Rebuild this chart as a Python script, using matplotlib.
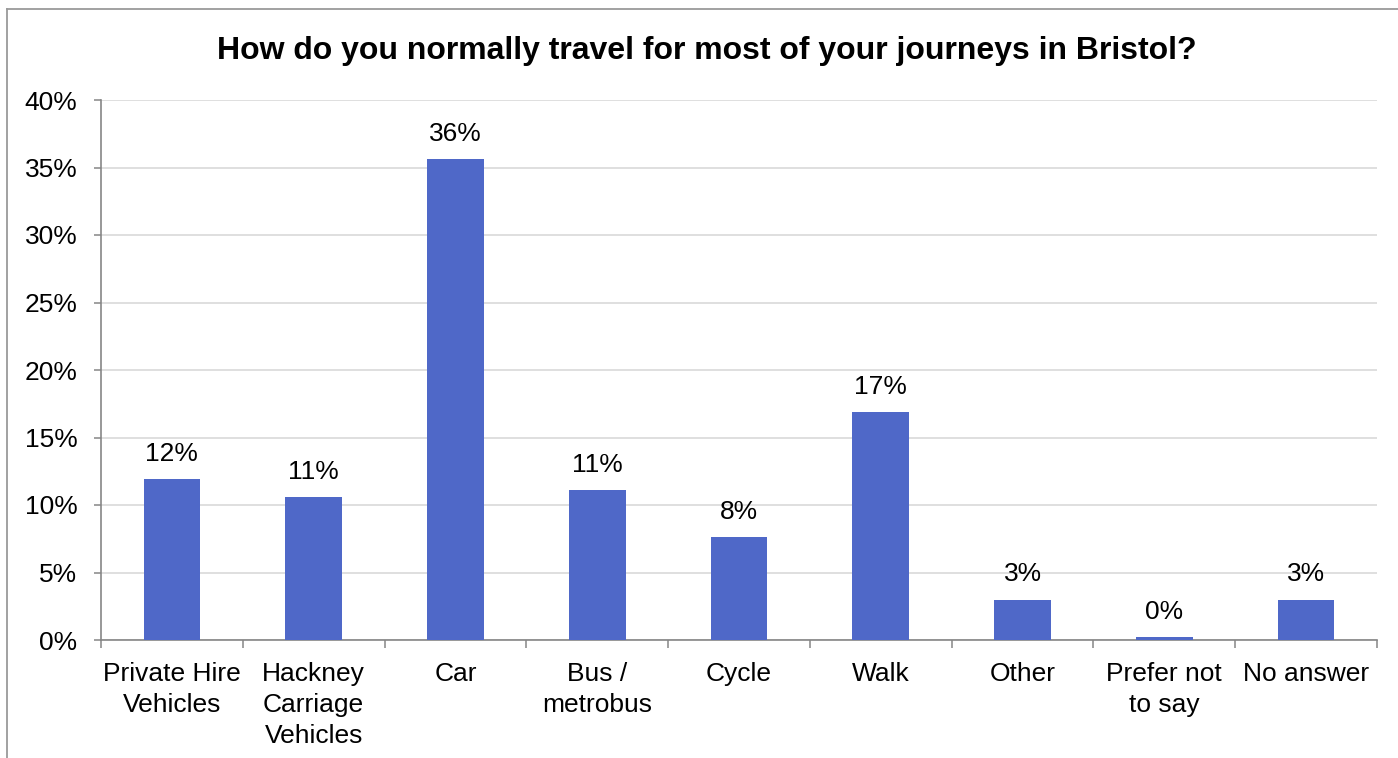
import matplotlib
matplotlib.use("Agg")
import matplotlib.pyplot as plt
from matplotlib.lines import Line2D
from matplotlib.ticker import FixedLocator, PercentFormatter

plt.rcParams['font.family'] = ['Liberation Sans', 'DejaVu Sans']

# Survey responses: main mode of travel (share of respondents, %)
categories = [
    "Private Hire\nVehicles",
    "Hackney\nCarriage\nVehicles",
    "Car",
    "Bus /\nmetrobus",
    "Cycle",
    "Walk",
    "Other",
    "Prefer not\nto say",
    "No answer",
]
shares = [11.9, 10.6, 35.6, 11.1, 7.6, 16.9, 3.0, 0.2, 3.0]
y_ticks = [0, 5, 10, 15, 20, 25, 30, 35, 40]

title = "How do you normally travel for most of your journeys in Bristol?"

bar_color = "#4F68C8"
axis_color = "#868686"
grid_color = "#D9D9D9"
fs = 19

W, H = 1398, 758
fig = plt.figure(figsize=(W / 100, H / 100), dpi=100)
fig.patch.set_facecolor("white")

# chart-area frame (left and top edges)
fig.add_artist(Line2D([7 / W, 7 / W], [0, 1 - 9 / H], transform=fig.transFigure,
                      color="#9A9A9A", lw=1.3))
fig.add_artist(Line2D([7 / W, 1], [1 - 9 / H, 1 - 9 / H], transform=fig.transFigure,
                      color="#9A9A9A", lw=1.3))

ax = fig.add_axes([101 / W, 1 - 640 / H, (1377 - 101) / W, (640 - 100) / H])

x = list(range(len(categories)))
bars = ax.bar(x, shares, width=0.4, color=bar_color, zorder=3)

ax.set_xlim(-0.5, len(categories) - 0.5)
ax.set_ylim(0, 40)
ax.set_yticks(y_ticks)
ax.yaxis.set_major_formatter(PercentFormatter(decimals=0))
ax.grid(axis="y", color=grid_color, lw=1.2, zorder=0)

ax.set_xticks(x)
ax.set_xticklabels(categories, linespacing=1.35)
ax.xaxis.set_minor_locator(FixedLocator([i - 0.5 for i in range(len(categories) + 1)]))
ax.tick_params(axis="x", which="major", length=0, pad=16, labelsize=fs)
ax.tick_params(axis="x", which="minor", length=6, width=1.1, color=axis_color, direction="out")
ax.tick_params(axis="y", length=5, width=1.1, color=axis_color, pad=12, labelsize=fs)

for side in ("top", "right"):
    ax.spines[side].set_visible(False)
for side in ("left", "bottom"):
    ax.spines[side].set_color(axis_color)
    ax.spines[side].set_linewidth(1.2)

for rect, v in zip(bars, shares):
    ax.annotate(f"{round(v):d}%", (rect.get_x() + rect.get_width() / 2, v),
                xytext=(0, 9.5), textcoords="offset points",
                ha="center", va="bottom", fontsize=fs)

fig.text(707 / W, 1 - 51 / H, title, ha="center", va="center",
         fontsize=23, fontweight="bold")

fig.savefig("out.png", dpi=100)
